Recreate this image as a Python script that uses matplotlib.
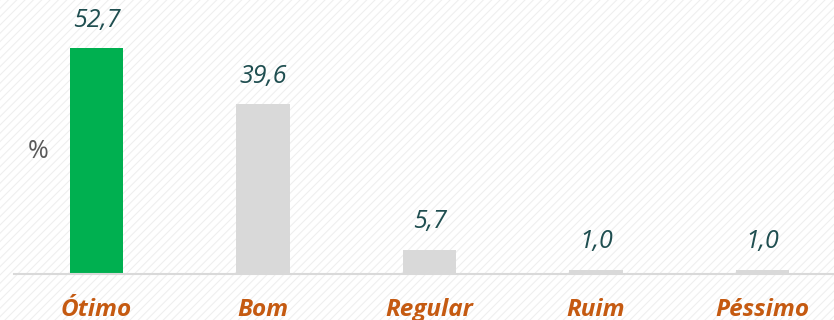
import matplotlib
matplotlib.use("Agg")
import matplotlib.pyplot as plt
from matplotlib.patches import Rectangle

categories = ["Ótimo", "Bom", "Regular", "Ruim", "Péssimo"]
values = [52.7, 39.6, 5.7, 1.0, 1.0]
labels = ["52,7", "39,6", "5,7", "1,0", "1,0"]
colors = ["#00B050", "#D9D9D9", "#D9D9D9", "#D9D9D9", "#D9D9D9"]

plt.rcParams["font.family"] = ["Open Sans", "DejaVu Sans"]
plt.rcParams["hatch.linewidth"] = 0.8

fig = plt.figure(figsize=(8.34, 3.2), dpi=100)
fig.patch.set_facecolor("white")
# faint diagonal hatch background
bg = Rectangle((0, 0), 1, 1, transform=fig.transFigure, facecolor="white",
               edgecolor="#EFEFEF", hatch="////", lw=0, zorder=-10)
fig.patches.append(bg)

ax = fig.add_axes([14 / 834, 46 / 320, 1 - 14 / 834, 274 / 320])
ax.patch.set_alpha(0)

x = list(range(len(categories)))
ax.bar(x, values, width=0.32, color=colors, zorder=2)

for xi, v, lab in zip(x, values, labels):
    ax.annotate(lab, (xi, v), xytext=(0, 11), textcoords="offset points",
                ha="center", va="bottom", fontsize=18, style="italic",
                color="#1F4E50")

ax.set_xlim(-0.496, 4.43)
ax.set_ylim(0, 63.9)
ax.set_yticks([])
ax.set_xticks(x)
ax.set_xticklabels(categories, fontsize=17.5, fontweight="bold", style="italic",
                   color="#C55A11")
ax.tick_params(axis="x", length=0, pad=17)
for s in ["top", "right", "left"]:
    ax.spines[s].set_visible(False)
ax.spines["bottom"].set_color("#D9D9D9")
ax.spines["bottom"].set_linewidth(1.5)

fig.text(38 / 834, 1 - 152 / 320, "%", ha="center", va="center",
         fontsize=18, color="#595959")

fig.savefig("out.png", dpi=100)
